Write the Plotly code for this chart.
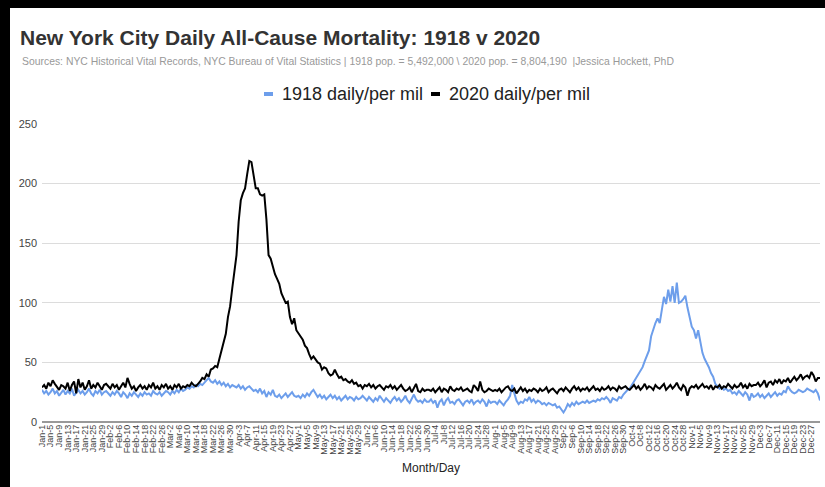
import pandas as pd
import plotly.graph_objects as go

# Day labels (non-leap calendar, Jan-1 .. Dec-31)
days = [f"{d.strftime('%b')}-{d.day}" for d in pd.date_range("1918-01-01", "1918-12-31")]
tick_labels = days[:361:4]          # Jan-1, Jan-5, ... Dec-27
y_ticks = [0, 50, 100, 150, 200, 250]
series_names = ["1918 daily/per mil", "2020 daily/per mil"]

# 1918 daily deaths per million, by month
y1918_jan = [27,24,26,23,25,28,24,26,22,25,27,23,26,24,28,22,25,27,24,26,23,25,28,24,22,26,24,27,23,25,26]
y1918_feb = [24,22,25,23,26,24,21,25,23,20,24,22,25,23,21,24,22,25,23,24,22,26,24,23,25,22,24,26]
y1918_mar = [25,23,26,24,27,25,28,26,27,29,28,30,29,31,30,32,31,33,35,37,34,33,35,32,34,31,33,30,32,29,31]
y1918_apr = [30,29,31,28,30,27,29,30,28,26,27,25,28,24,26,21,25,23,27,22,21,23,20,22,24,21,23,25,22,21]
y1918_may = [22,20,23,21,24,22,25,27,24,21,23,20,22,19,21,23,20,22,19,21,18,20,22,19,21,20,18,21,19,20,22]
y1918_jun = [20,18,21,19,17,20,18,22,19,17,20,18,16,19,21,18,20,17,19,22,18,16,20,23,19,17,18,16,19,17]
y1918_jul = [17,19,16,18,12,17,19,14,18,20,16,17,15,18,19,16,14,17,18,16,19,15,17,18,16,19,17,13,18,16,17]
y1918_aug = [17,15,18,16,14,17,19,22,31,24,18,15,17,16,19,18,21,17,19,16,18,17,15,16,14,16,15,14,15,12,13]
y1918_sep = [10,8,11,15,13,16,14,17,15,16,17,16,18,16,17,18,17,19,18,20,19,21,19,16,20,19,18,21,20,23]
y1918_oct = [25,27,28,31,35,38,41,44,46,51,55,60,72,78,83,87,83,94,105,99,111,101,114,100,117,100,101,103,106,96,88]
y1918_nov = [80,77,70,77,66,58,53,50,46,41,38,32,30,28,29,27,28,26,27,24,25,23,26,24,22,25,23,18,24,21]
y1918_dec = [22,24,21,23,20,22,24,21,23,25,22,24,23,26,25,30,27,25,24,25,27,26,25,26,28,27,26,25,27,24,18]

# 2020 daily deaths per million, by month
y2020_jan = [29,31,28,33,30,35,32,29,27,31,30,28,33,26,31,34,24,36,29,33,27,30,35,28,31,29,33,30,27,31,32]
y2020_feb = [30,28,32,29,31,27,30,33,29,37,32,28,30,26,29,31,28,30,27,31,29,33,28,30,27,31,29,32]
y2020_mar = [28,30,27,31,29,32,28,30,29,31,30,33,31,30,32,34,37,36,40,38,44,45,47,46,53,60,68,74,88,97,112]
y2020_apr = [125,140,168,186,192,196,208,219,218,205,196,196,191,190,191,170,140,137,130,124,120,116,108,104,100,101,88,82,87,77]
y2020_may = [74,71,69,64,62,57,53,55,52,50,49,44,46,45,41,39,40,44,40,37,38,35,36,34,33,35,32,33,30,31,28]
y2020_jun = [31,30,32,29,31,28,30,31,29,27,30,29,31,28,30,27,29,31,28,26,27,29,25,28,32,26,25,28,26,27]
y2020_jul = [27,26,28,25,27,29,25,28,27,25,30,27,26,28,27,29,26,27,28,26,25,31,29,26,34,27,25,26,28,27,26]
y2020_aug = [27,26,28,25,27,29,30,27,26,28,24,27,29,26,28,25,27,26,28,27,25,28,26,27,29,25,27,28,26,24,27]
y2020_sep = [28,26,29,27,25,28,30,27,29,26,28,27,29,26,28,30,27,28,26,29,27,28,30,27,29,28,26,30,28,29]
y2020_oct = [30,28,27,29,31,28,30,27,29,32,28,30,29,27,31,29,28,30,32,27,29,31,28,30,33,29,27,31,29,22,28]
y2020_nov = [30,29,31,28,30,32,29,30,28,31,27,30,29,31,28,30,29,32,30,28,31,29,30,33,29,31,28,32,30,31]
y2020_dec = [31,33,30,32,35,29,33,34,31,35,33,36,32,35,34,37,33,36,38,35,37,40,36,38,39,37,42,39,34,37,37]

y1918 = (y1918_jan + y1918_feb + y1918_mar + y1918_apr + y1918_may + y1918_jun +
         y1918_jul + y1918_aug + y1918_sep + y1918_oct + y1918_nov + y1918_dec)
y2020 = (y2020_jan + y2020_feb + y2020_mar + y2020_apr + y2020_may + y2020_jun +
         y2020_jul + y2020_aug + y2020_sep + y2020_oct + y2020_nov + y2020_dec)

BLUE = "#6d9eeb"
BLACK = "#000000"
FONT = "Liberation Sans, Arial, sans-serif"
TICK = "#444444"

W, H = 825, 487
L, R, T, B = 42, 5, 124, 65
PW, PH = W - L - R, H - T - B

def px(xp):
    return (xp - L) / PW

def py(yp):
    return (H - B - yp) / PH

fig = go.Figure()
fig.add_trace(go.Scatter(x=days, y=y1918, mode="lines", name=series_names[0],
                         line=dict(color=BLUE, width=2), showlegend=False, hoverinfo="skip"))
fig.add_trace(go.Scatter(x=days, y=y2020, mode="lines", name=series_names[1],
                         line=dict(color=BLACK, width=2), showlegend=False, hoverinfo="skip"))

# Compact legend (Google-Sheets style short dashes)
legend_items = [(BLUE, 264, 280), (BLACK, 431, 447)]
shapes = []
annotations = []
for (color, sx, tx), name in zip(legend_items, series_names):
    shapes.append(dict(type="line", xref="paper", yref="paper", x0=px(sx), x1=px(sx + 9),
                       y0=py(94), y1=py(94), line=dict(color=color, width=4)))
    annotations.append(dict(text=name, xref="paper", yref="paper", x=px(tx), y=py(94),
                            xanchor="left", yanchor="middle", showarrow=False,
                            font=dict(family=FONT, size=18, color="#222")))

annotations.append(dict(text="Sources: NYC Historical Vital Records, NYC Bureau of Vital Statistics | 1918 pop. = 5,492,000 \\ 2020 pop. = 8,804,190  |Jessica Hockett, PhD",
                        xref="paper", yref="paper", x=px(20), y=py(62), xanchor="left", yanchor="middle",
                        showarrow=False, font=dict(family=FONT, size=10.4, color="#999999")))

# screenshot frame edges (black)
shapes.append(dict(type="rect", xref="paper", yref="paper", x0=px(0), x1=px(W), y0=py(8), y1=py(0),
                   fillcolor="black", line=dict(width=0), layer="above"))
shapes.append(dict(type="rect", xref="paper", yref="paper", x0=px(0), x1=px(10), y0=py(H), y1=py(0),
                   fillcolor="black", line=dict(width=0), layer="above"))

fig.update_layout(
    width=W, height=H,
    margin=dict(l=L, r=R, t=T, b=B, autoexpand=False),
    paper_bgcolor="white", plot_bgcolor="white",
    font=dict(family=FONT, color=TICK),
    showlegend=False,
    title=dict(text="<b>New York City Daily All-Cause Mortality: 1918 v 2020</b>",
               x=20 / W, xanchor="left", xref="container",
               y=1 - 38 / H, yanchor="middle", yref="container",
               font=dict(family=FONT, size=21, color="#333333")),
    xaxis=dict(type="category", tickmode="array", tickvals=tick_labels, ticktext=tick_labels,
               tickangle=-90, tickfont=dict(family=FONT, size=9, color=TICK), showgrid=False,
               showline=False, zeroline=False, ticks="", automargin=False,
               title=dict(text="Month/Day", font=dict(family=FONT, size=12, color="#222"), standoff=9)),
    yaxis=dict(range=[0, 250], tickvals=y_ticks, tickfont=dict(family=FONT, size=11, color=TICK),
               showgrid=True, gridcolor="#dcdcdc", gridwidth=1, automargin=False,
               ticklabelstandoff=4,
               zeroline=True, zerolinecolor="#999999", zerolinewidth=2, ticks=""),
    annotations=annotations,
    shapes=shapes,
)

fig.write_html("out.html", config={"displayModeBar": False},
               post_script="document.body.style.margin='0';document.body.style.overflow='hidden';")
